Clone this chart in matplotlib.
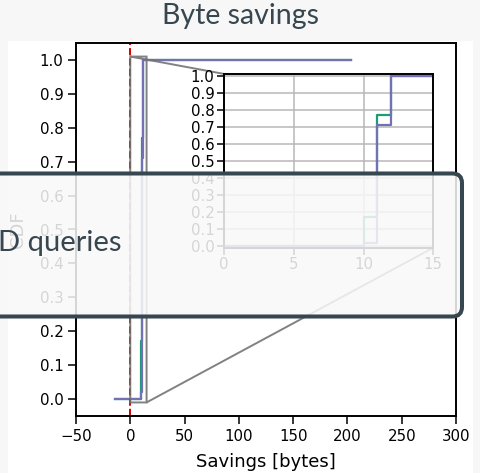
import matplotlib
matplotlib.use("Agg")
import matplotlib.pyplot as plt
from matplotlib.patches import FancyBboxPatch, Rectangle

# ---- data ----
savings_x = [-14, 10, 11, 12, 203]
cdf_green = [0.0, 0.17, 0.77, 1.0, 1.0]
cdf_purple = [0.0, 0.02, 0.71, 1.0, 1.0]
x_ticks = [-50, 0, 50, 100, 150, 200, 250, 300]
y_ticks = [round(0.1 * i, 1) for i in range(11)]
inset_x_ticks = [0, 5, 10, 15]
title_text = "Byte savings"
legend_text = "D queries"
x_label = "Savings [bytes]"
y_label = "CDF"

GREEN = "#1b9e77"
PURPLE = "#7570b3"
SLATE = "#37474f"

W, H = 480, 473
fig = plt.figure(figsize=(W / 100, H / 100), dpi=100, facecolor="#f7f7f7")

# white image panel
fig.patches.append(Rectangle((8 / W, 0), (473 - 8) / W, (H - 41) / H,
                             transform=fig.transFigure, facecolor="white",
                             edgecolor="none", zorder=-1))

ax = fig.add_axes([76 / W, (H - 416) / H, (456 - 76) / W, (416 - 43) / H])
for s in ax.spines.values():
    s.set_linewidth(1.4)
ax.tick_params(labelsize=10.8, length=6, width=1.1, pad=3)

def draw_lines(a):
    a.step(savings_x, cdf_green, where="post", color=GREEN, lw=1.6)
    a.step(savings_x, cdf_purple, where="post", color=PURPLE, lw=1.6)

draw_lines(ax)
ax.axvline(0, color="#d00000", ls="--", lw=1.4)
ax.set_xlim(-50, 300)
ax.set_ylim(-0.05, 1.05)
ax.set_xticks(x_ticks)
ax.set_yticks(y_ticks)
ax.set_xlabel(x_label, fontsize=13, labelpad=7)
ax.set_ylabel(y_label, fontsize=13, labelpad=9)

axins = ax.inset_axes([0.39, 0.451, 0.55, 0.466])
draw_lines(axins)
axins.set_xlim(0, 15)
axins.set_ylim(-0.01, 1.01)
axins.set_xticks(inset_x_ticks)
axins.set_yticks(y_ticks)
axins.grid(True, color="#b8b8b8", lw=1.1)
axins.set_axisbelow(True)
for s in axins.spines.values():
    s.set_linewidth(1.4)
axins.tick_params(labelsize=10.8, length=5, width=1.1, pad=2)

ind = ax.indicate_inset_zoom(axins, edgecolor="0.45", alpha=0.9, linewidth=1.4)
conns = ind.connectors
for i, c in enumerate(conns):
    c.set_visible(i in (1, 2))
    c.set_color("0.45")
    c.set_alpha(0.9)
    c.set_linewidth(1.4)

# title
fig.text(240.5 / W, (H - 24) / H, title_text, ha="center", va="baseline",
         fontsize=20.5, color=SLATE, family=["Lato", "DejaVu Sans"])

# overlay legend box
box = FancyBboxPatch((-20 / W, (H - 316.5) / H), (462 + 20) / W, (316.5 - 173.5) / H,
                     boxstyle="round,pad=0,rounding_size=0.02",
                     transform=fig.transFigure, facecolor="#f9f9f9", alpha=0.86,
                     edgecolor="none", zorder=10)
fig.patches.append(box)
border = FancyBboxPatch((-20 / W, (H - 316.5) / H), (462 + 20) / W, (316.5 - 173.5) / H,
                        boxstyle="round,pad=0,rounding_size=0.02",
                        transform=fig.transFigure, facecolor="none",
                        edgecolor=SLATE, linewidth=2.9, zorder=11)
fig.patches.append(border)
fig.text(121 / W, (H - 251) / H, legend_text, ha="right", va="baseline",
         fontsize=21, color=SLATE, family=["Lato", "DejaVu Sans"], zorder=12)

fig.savefig("out.png", dpi=100, facecolor=fig.get_facecolor())
